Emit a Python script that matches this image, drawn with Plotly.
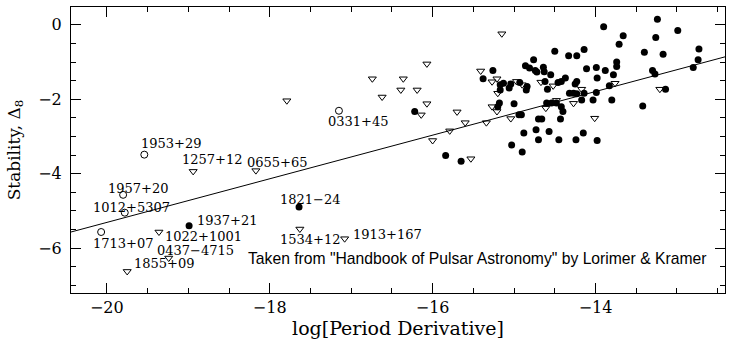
import plotly.graph_objects as go

# ---- data (log Pdot, stability Delta_8) ----
filled_x = [-16.22, -15.84, -15.65,
            -14.50, -14.33, -14.23, -14.14, -14.76, -14.86, -14.81, -14.74, -14.72, -14.64, -14.63, -14.55,
            -15.26, -15.38, -14.11, -14.46, -14.42, -14.37, -14.62, -14.59, -14.23, -14.25, -15.17, -15.13,
            -15.06, -15.04, -15.17, -14.93, -14.84, -14.85, -14.32, -14.27, -14.23, -14.14, -14.17, -15.18,
            -15.20, -15.00, -14.60, -14.54, -14.48, -14.42, -14.40, -14.91, -14.94, -14.70, -14.66, -14.43,
            -14.73, -14.88, -14.57, -14.15, -14.70, -14.45, -14.24, -13.98, -15.03, -14.90,
            -13.90, -13.24, -12.99, -13.66, -13.71, -13.26, -13.40, -13.17, -12.73, -12.74, -12.80, -13.99,
            -13.88, -13.74, -13.74, -13.78, -13.98, -13.30, -13.27, -13.83, -13.14, -14.03, -13.80, -13.42,
            -13.99]
filled_y = [-2.33, -3.51, -3.67,
            -0.71, -0.83, -0.83, -0.66, -0.94, -1.10, -1.16, -1.23, -1.27, -1.14, -1.26, -1.34,
            -1.23, -1.45, -1.18, -1.55, -1.52, -1.43, -1.52, -1.73, -1.52, -1.59, -1.61, -1.57,
            -1.70, -1.59, -1.75, -1.55, -1.66, -1.75, -1.84, -1.84, -1.85, -1.84, -2.02, -2.10,
            -2.20, -2.12, -2.10, -2.10, -2.10, -2.20, -2.33, -2.42, -2.42, -2.53, -2.53, -2.53,
            -2.82, -2.91, -2.87, -2.91, -3.09, -3.09, -3.09, -3.11, -3.23, -3.42,
            -0.05, 0.15, -0.15, -0.29, -0.52, -0.34, -0.74, -0.79, -0.65, -0.94, -1.15, -1.15,
            -1.23, -1.00, -1.12, -1.34, -1.43, -1.23, -1.32, -1.64, -1.73, -2.02, -2.02, -2.18,
            -1.82]

tri_x = [-17.79, -16.74, -16.36, -16.07, -16.39, -16.19, -16.62, -16.07, -16.14, -15.70, -15.60,
         -15.79, -16.00, -15.53, -15.41, -15.27, -15.21, -15.20, -15.27, -15.21, -15.34, -15.04,
         -15.15, -14.97, -14.90, -14.67, -14.52, -14.48, -14.61, -14.17, -14.27, -14.01, -13.76, -13.21]
tri_y = [-2.04, -1.45, -1.45, -1.05, -1.75, -1.75, -1.94, -2.12, -2.42, -2.34, -2.63,
         -2.85, -3.11, -3.60, -1.24, -1.53, -1.45, -1.84, -2.20, -2.33, -2.63, -2.52,
         -0.24, -1.52, -1.61, -1.54, -1.64, -2.03, -2.24, -1.73, -2.11, -2.51, -1.57, -1.73]

# named pulsars
open_names = ["1953+29", "1957+20", "1012+5307", "1713+07", "0331+45"]
open_x = [-19.54, -19.80, -19.78, -20.07, -17.15]
open_y = [-3.49, -4.57, -5.05, -5.57, -2.31]

named_filled_names = ["1937+21", "1821\u221224"]
named_filled_x = [-18.99, -17.64]
named_filled_y = [-5.40, -4.90]

named_tri_names = ["1257+12", "0655+65", "1022+1001", "0437\u22124715", "1855+09", "1534+12", "1913+167"]
named_tri_x = [-18.94, -18.17, -19.36, -19.24, -19.75, -17.63, -17.08]
named_tri_y = [-3.94, -3.92, -5.57, -6.27, -6.63, -5.49, -5.75]

# fitted line endpoints
fit_x = [-20.44, -12.41]
fit_y = [-5.57, -0.86]

# label anchor positions (left edge, vertical middle) in data units
label_text = ["1953+29", "1257+12", "0655+65", "1957+20", "1012+5307", "1713+07", "1937+21",
              "1022+1001", "0437\u22124715", "1855+09", "1821\u221224", "1534+12", "1913+167", "0331+45"]
label_x = [-19.59, -19.09, -18.29, -20.00, -20.18, -20.18, -18.90, -19.30, -19.40, -19.68,
           -17.89, -17.89, -16.99, -17.30]
label_y = [-3.20, -3.61, -3.70, -4.39, -4.90, -5.87, -5.26, -5.69, -6.06, -6.42,
           -4.70, -5.76, -5.65, -2.60]

SERIF = "DejaVu Serif"

fig = go.Figure()
fig.add_trace(go.Scatter(x=fit_x, y=fit_y, mode="lines",
                         line=dict(color="black", width=1), showlegend=False, hoverinfo="skip"))
fig.add_trace(go.Scatter(x=tri_x + named_tri_x, y=tri_y + named_tri_y, mode="markers",
                         marker=dict(symbol="triangle-down-open", size=7, color="black",
                                     line=dict(width=1, color="black")), showlegend=False))
fig.add_trace(go.Scatter(x=open_x, y=open_y, mode="markers",
                         marker=dict(symbol="circle-open", size=7, color="black",
                                     line=dict(width=1, color="black")), showlegend=False))
fig.add_trace(go.Scatter(x=filled_x + named_filled_x, y=filled_y + named_filled_y, mode="markers",
                         marker=dict(symbol="circle", size=7, color="black", line=dict(width=0)),
                         showlegend=False))

for t, lx, ly in zip(label_text, label_x, label_y):
    fig.add_annotation(x=lx, y=ly, text=t, showarrow=False, xanchor="left", yanchor="middle",
                       borderpad=0, font=dict(family=SERIF, size=13, color="black"))

fig.add_annotation(x=-15.46, y=-6.27, text='Taken from "Handbook of Pulsar Astronomy" by Lorimer & Kramer',
                   showarrow=False, xanchor="center", yanchor="middle", borderpad=0,
                   font=dict(family="Liberation Sans", size=15.7, color="black"))

axis_common = dict(showgrid=False, zeroline=False, showline=True, linecolor="black", linewidth=1,
                   mirror="allticks", ticks="inside", ticklen=10, tickwidth=1, tickcolor="black",
                   tickfont=dict(family=SERIF, size=16, color="black"))

fig.update_xaxes(range=[-20.44, -12.41], tick0=-20, dtick=2,
                 minor=dict(dtick=0.5, ticks="inside", ticklen=5, tickcolor="black"),
                 title=dict(text="log[Period Derivative]", font=dict(family=SERIF, size=19, color="black"),
                            standoff=1),
                 **axis_common)
fig.update_yaxes(range=[-7.21, 0.48], tick0=0, dtick=2, ticklabelstandoff=5,
                 minor=dict(dtick=0.5, ticks="inside", ticklen=5, tickcolor="black"),
                 title=dict(text="Stability, \u0394<sub>8</sub>", font=dict(family=SERIF, size=17, color="black"),
                            standoff=13),
                 **axis_common)

fig.update_layout(width=732, height=344, margin=dict(l=71, r=7, t=7, b=51),
                  plot_bgcolor="white", paper_bgcolor="white")

fig.write_html("out.html")
